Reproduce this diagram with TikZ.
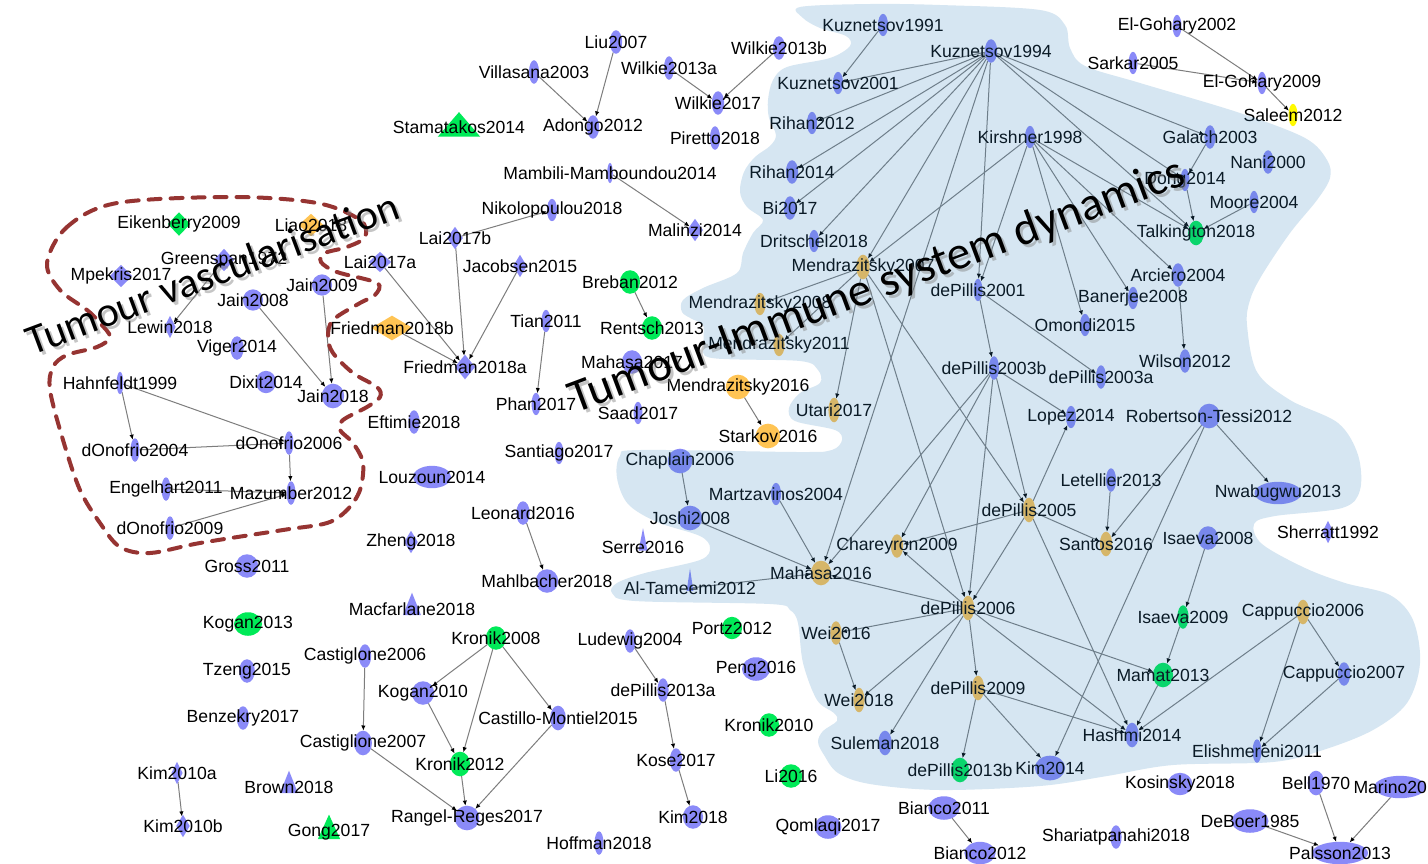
\documentclass[tikz,border=0pt]{standalone}
\usepackage{fontspec}
\setmainfont{Liberation Sans}
\newfontfamily\titlefont{Carlito}
\usetikzlibrary{shapes.geometric,arrows.meta}

\definecolor{nb}{RGB}{138,138,248}
\definecolor{ng}{RGB}{0,234,88}
\definecolor{no}{RGB}{255,196,84}
\definecolor{ny}{RGB}{255,250,0}
\definecolor{edgegray}{RGB}{125,125,125}
\definecolor{blobblue}{RGB}{50,130,190}
\definecolor{vascred}{RGB}{150,52,50}

\pgfdeclarelayer{backdrop}
\pgfdeclarelayer{edges}
\pgfsetlayers{backdrop,edges,main}

\tikzset{
  paper/.style={draw=none, inner sep=0pt, outer sep=0pt},
  oval/.style={paper, ellipse},
  rhomb/.style={paper, diamond},
  tri/.style={paper, isosceles triangle, shape border rotate=90, isosceles triangle stretches},
  lbl/.style={font=\fontsize{8.8}{10}\selectfont, inner sep=0pt},
  cite/.style={draw=edgegray, line width=0.5pt, -{Latex[length=2.6pt,width=2.2pt,color=black]}},
  vasc/.style={draw=vascred, line width=2pt, line cap=round, dash pattern=on 6pt off 5pt},
  bigtitle/.style={font=\titlefont, inner sep=0pt},
}

\begin{document}
\begin{tikzpicture}[x=0.5pt,y=-0.5pt]
\useasboundingbox (0,0) rectangle (1428,863);
\begin{pgfonlayer}{backdrop}
  \fill[white] (0,0) rectangle (1428,863);
\end{pgfonlayer}

% papers: name / x / y / shape / colour / width / height (px)
\foreach \nm/\px/\py/\shp/\col/\nw/\nh in {
  Kuznetsov1991/883/25/oval/nb/9/20, Kuznetsov1994/991/51/oval/nb/11/21,
  Kuznetsov2001/838/83/oval/nb/9/20, Rihan2012/812/123/oval/nb/9/20,
  Rihan2014/792/172/oval/nb/11/21, Bi2017/790/208/oval/nb/11/21,
  Dritschel2018/814/241/oval/nb/9/20, Mendrazitsky2007/863/267/oval/no/12/22,
  Mendrazitsky2008/760/304/oval/no/10/20, Mendrazitsky2011/779/345/oval/no/10/20,
  Mendrazitsky2016/738/387/oval/no/22/22, Starkov2016/768/436/oval/no/22/22,
  Utari2017/834/410/oval/no/10/22, El-Gohary2002/1177/26/oval/nb/8/20,
  Sarkar2005/1133/63/oval/nb/8/20, El-Gohary2009/1262/83/oval/nb/8/20,
  Saleem2012/1293/115/oval/ny/8/20, Kirshner1998/1030/137/oval/nb/9/20,
  Galach2003/1210/137/oval/nb/10/21, Nani2000/1268/162/oval/nb/10/21,
  Dong2014/1185/180/oval/nb/8/20, Moore2004/1254/202/oval/nb/8/20,
  Talkington2018/1196/233/oval/ng/14/22, Arciero2004/1178/275/oval/nb/11/21,
  dePillis2001/978/290/oval/nb/8/20, Banerjee2008/1133/298/oval/nb/9/20,
  Omondi2015/1085/325/oval/nb/9/20, Wilson2012/1185/361/oval/nb/10/21,
  dePillis2003b/994/368/oval/nb/9/21, dePillis2003a/1101/377/oval/nb/9/21,
  Lopez2014/1071/417/oval/nb/9/20, Robertson-Tessi2012/1209/416/oval/nb/20/22,
  Letellier2013/1111/480/oval/nb/9/21, Nwabugwu2013/1278/493/oval/nb/42/20,
  dePillis2005/1029/510/oval/no/11/22, Santos2016/1106/544/oval/no/11/22,
  Isaeva2008/1208/538/oval/nb/18/21, Sherratt1992/1328/532/rhomb/nb/10/20,
  Chaplain2006/680/461/oval/nb/22/22, Martzavinos2004/776/494/oval/nb/9/20,
  Joshi2008/690/518/oval/nb/22/22, Chareyron2009/897/546/oval/no/11/21,
  Mahasa2016/821/573/oval/no/18/22, Al-Tameemi2012/690/588/tri/nb/6/20,
  dePillis2006/968/608/oval/no/11/22, Isaeva2009/1183/617/oval/ng/10/21,
  Cappuccio2006/1303/612/oval/no/11/22, Wei2016/836/633/oval/no/10/21,
  Mamat2013/1163/675/oval/ng/18/22, Cappuccio2007/1344/674/oval/nb/11/21,
  dePillis2009/978/688/oval/no/11/22, Wei2018/859/700/oval/no/10/22,
  Hashmi2014/1132/735/oval/nb/12/22, Suleman2018/885/743/oval/nb/12/22,
  Elishmereni2011/1257/751/oval/nb/8/21, dePillis2013b/960/770/oval/ng/16/22,
  Kim2014/1050/768/oval/nb/27/22, Kosinsky2018/1180/784/oval/nb/22/20,
  Bell1970/1316/783/oval/nb/15/22, Marino2018/1400/787/oval/nb/46/20,
  DeBoer1985/1250/821/oval/nb/33/21, Shariatpanahi2018/1116/837/oval/nb/10/21,
  Palsson2013/1340/853/oval/nb/50/20, Bianco2011/944/808/oval/nb/28/21,
  Bianco2012/980/853/oval/nb/28/20, Qomlaqi2017/828/827/oval/nb/24/21,
  Li2016/791/776/oval/ng/20/21, Kronik2010/769/725/oval/ng/18/21,
  Peng2016/756/669/oval/nb/25/21, Portz2012/732/628/oval/ng/18/20,
  Ludewig2004/630/641/oval/nb/10/21, dePillis2013a/663/690/oval/nb/10/21,
  Kose2017/676/760/oval/nb/11/21, Kim2018/693/817/oval/nb/18/21,
  Hoffman2018/599/843/oval/nb/8/21, Kronik2008/496/638/oval/ng/18/21,
  Castillo-Montiel2015/558/718/oval/nb/14/22, Kronik2012/460/764/oval/ng/18/22,
  Rangel-Reges2017/467/818/oval/nb/22/22, Kogan2010/423/693/oval/nb/20/21,
  Castiglone2006/365/656/oval/nb/11/21, Castiglione2007/363/743/oval/nb/16/22,
  Macfarlane2018/412/609/tri/nb/16/20, Kogan2013/248/624/oval/ng/25/21,
  Tzeng2015/247/671/oval/nb/14/21, Benzekry2017/243/718/oval/nb/11/21,
  Kim2010a/177/773/rhomb/nb/10/20, Kim2010b/183/826/rhomb/nb/12/20,
  Brown2018/289/787/tri/nb/16/20, Gong2017/329/832/tri/ng/20/22,
  Gross2011/247/566/oval/nb/20/21, Zheng2018/411/542/rhomb/nb/12/20,
  Louzoun2014/432/477/oval/nb/34/20, Eftimie2018/414/422/oval/nb/10/21,
  Leonard2016/523/513/oval/nb/12/21, Mahlbacher2018/547/581/oval/nb/20/21,
  Serre2016/643/547/tri/nb/8/20, Santiago2017/559/453/oval/nb/8/20,
  Phan2017/536/404/oval/nb/8/20, Saad2017/638/413/oval/nb/8/20,
  Tian2011/546/321/oval/nb/8/20, Mahasa2017/632/362/oval/nb/18/21,
  Rentsch2013/652/328/oval/ng/18/21, Breban2012/630/282/oval/ng/18/21,
  Jacobsen2015/520/266/rhomb/nb/12/20, Malinzi2014/695/230/rhomb/nb/14/20,
  Nikolopoulou2018/552/210/oval/nb/9/20, Mambili-Mamboundou2014/610/173/oval/nb/5/18,
  Adongo2012/593/127/oval/nb/11/21, Piretto2018/715/138/oval/nb/9/21,
  Wilkie2017/718/103/oval/nb/11/21, Wilkie2013a/669/68/oval/nb/9/21,
  Wilkie2013b/779/48/oval/nb/11/21, Liu2007/616/42/oval/nb/11/21,
  Villasana2003/534/72/oval/nb/9/21, Stamatakos2014/459/127/tri/ng/38/22,
  Lai2017b/455/238/rhomb/nb/14/20, Lai2017a/380/262/rhomb/nb/20/18,
  Friedman2018a/465/367/rhomb/nb/18/22, Friedman2018b/392/328/rhomb/no/37/22,
  Eikenberry2009/179/224/rhomb/ng/20/21, Liao2018/311/225/rhomb/no/22/20,
  Greenspan1972/224/260/rhomb/nb/18/20, Mpekris2017/121/276/rhomb/nb/20/20,
  Jain2009/322/285/oval/nb/18/19, Jain2008/253/300/oval/nb/18/19,
  Lewin2018/170/327/rhomb/nb/10/20, Viger2014/237/348/oval/nb/12/21,
  Hahnfeldt1999/120/383/oval/nb/6/20, Dixit2014/266/382/oval/nb/18/20,
  Jain2018/333/396/oval/nb/20/22, dOnofrio2004/135/450/oval/nb/8/21,
  dOnofrio2006/289/443/oval/nb/8/21, Engelhart2011/166/489/oval/nb/8/21,
  Mazumber2012/291/493/oval/nb/8/21, dOnofrio2009/170/528/oval/nb/8/21}
  \node[\shp, fill=\col, minimum width=\nw*0.56pt, minimum height=\nh*0.56pt,
        label={[lbl]center:\nm}] (\nm) at (\px,\py) {};

% citations, older -> newer
\begin{pgfonlayer}{edges}
\foreach \src/\dst in {
  Liu2007/Adongo2012, Villasana2003/Adongo2012, Wilkie2013a/Wilkie2017,
  Wilkie2013b/Wilkie2017, Mambili-Mamboundou2014/Malinzi2014,
  Lai2017b/Nikolopoulou2018, Lai2017b/Friedman2018a, Lai2017a/Friedman2018a,
  Jacobsen2015/Friedman2018a, Friedman2018b/Friedman2018a,
  Greenspan1972/Lewin2018, Jain2008/Jain2018, Jain2009/Jain2018,
  Hahnfeldt1999/dOnofrio2004, Hahnfeldt1999/dOnofrio2006,
  dOnofrio2004/dOnofrio2006, dOnofrio2006/Mazumber2012,
  Engelhart2011/Mazumber2012, dOnofrio2009/Mazumber2012,
  Breban2012/Rentsch2013, Tian2011/Phan2017, Leonard2016/Mahlbacher2018,
  Mendrazitsky2016/Starkov2016, Chaplain2006/Joshi2008,
  Joshi2008/Mahasa2016, Martzavinos2004/Mahasa2016, Al-Tameemi2012/Mahasa2016,
  Kuznetsov1991/Kuznetsov2001, Kuznetsov1994/Kuznetsov2001,
  Kuznetsov1994/Rihan2012, Kuznetsov1994/Rihan2014, Kuznetsov1994/Bi2017,
  Kuznetsov1994/Dritschel2018, Kuznetsov1994/Mendrazitsky2007,
  Kuznetsov1994/Mahasa2016, Kuznetsov1994/dePillis2001,
  Kuznetsov1994/Galach2003, Kuznetsov1994/Dong2014,
  Kuznetsov1994/Talkington2018, Kirshner1998/Mendrazitsky2007,
  Kirshner1998/dePillis2001, Kirshner1998/Omondi2015,
  Kirshner1998/Banerjee2008, Kirshner1998/Arciero2004,
  Kirshner1998/Talkington2018, Galach2003/Dong2014, Dong2014/Talkington2018,
  Moore2004/Talkington2018, El-Gohary2002/El-Gohary2009,
  Sarkar2005/El-Gohary2009, El-Gohary2009/Saleem2012, Arciero2004/Wilson2012,
  Mendrazitsky2007/Mendrazitsky2008, Mendrazitsky2007/Mendrazitsky2011,
  Mendrazitsky2007/Utari2017, Mendrazitsky2007/dePillis2005,
  Mendrazitsky2007/dePillis2006, dePillis2001/dePillis2003b,
  dePillis2001/dePillis2003a, dePillis2003b/Lopez2014,
  dePillis2003b/dePillis2005, dePillis2003b/dePillis2006,
  dePillis2003b/Chareyron2009, dePillis2003b/Mahasa2016,
  dePillis2005/Lopez2014, dePillis2005/Santos2016, dePillis2005/Chareyron2009,
  dePillis2005/dePillis2006, dePillis2005/Hashmi2014,
  Letellier2013/Santos2016, Robertson-Tessi2012/Santos2016,
  Robertson-Tessi2012/Nwabugwu2013, Robertson-Tessi2012/Kim2014,
  Isaeva2008/Isaeva2009, Isaeva2009/Mamat2013, dePillis2006/Mahasa2016,
  dePillis2006/Chareyron2009, dePillis2006/Wei2016, dePillis2006/Wei2018,
  dePillis2006/Suleman2018, dePillis2006/dePillis2009, dePillis2006/Mamat2013,
  dePillis2006/Hashmi2014, Wei2016/Wei2018, dePillis2009/dePillis2013b,
  dePillis2009/Kim2014, dePillis2009/Hashmi2014, Mamat2013/Hashmi2014,
  Cappuccio2006/Hashmi2014, Cappuccio2006/Cappuccio2007,
  Cappuccio2006/Elishmereni2011, Cappuccio2007/Elishmereni2011,
  Kronik2008/Kogan2010, Kronik2008/Kronik2012, Kronik2008/Castillo-Montiel2015,
  Kogan2010/Kronik2012, Castiglone2006/Castiglione2007,
  Castiglione2007/Rangel-Reges2017, Kronik2012/Rangel-Reges2017,
  Castillo-Montiel2015/Rangel-Reges2017, Kim2010a/Kim2010b,
  Ludewig2004/dePillis2013a, dePillis2013a/Kose2017, Kose2017/Kim2018,
  Bianco2011/Bianco2012, DeBoer1985/Palsson2013, Bell1970/Palsson2013,
  Marino2018/Palsson2013}
  \draw[cite] (\src) -- (\dst);
\end{pgfonlayer}

% tumour-immune region, laid over the papers
\fill[blobblue, opacity=0.2] plot[smooth cycle, tension=0.55] coordinates {
  (800,7) (870,4) (940,5) (1040,10) (1065,25) (1070,48) (1085,66) (1140,83)
  (1240,113) (1305,138) (1327,160) (1330,178) (1317,200) (1290,233) (1262,275)
  (1250,300) (1247,325) (1257,372) (1290,400) (1338,423) (1358,455) (1360,490)
  (1342,508) (1275,516) (1254,524) (1262,544) (1305,568) (1345,583) (1390,595)
  (1413,620) (1420,663) (1407,703) (1373,730) (1323,750) (1273,762) (1173,765)
  (1107,776) (1040,786) (940,790) (870,784) (838,773) (824,755) (818,742)
  (823,731) (837,721) (834,713) (817,700) (803,663) (798,623) (790,610)
  (770,604) (635,601) (612,593) (617,583) (645,573) (700,560) (710,548)
  (700,536) (657,522) (628,504) (617,478) (620,456) (640,450) (800,452)
  (832,450) (842,440) (835,430) (795,421) (789,408) (800,393) (820,383)
  (818,370) (800,361) (712,358) (704,345) (703,325) (692,319) (682,312)
  (683,300) (703,288) (737,273) (743,253) (753,233) (763,220) (747,207)
  (740,192) (744,172) (755,157) (770,146) (776,135) (769,118) (768,100)
  (773,80) (787,67) (830,58) (850,46) (846,36) (820,28) (803,18)};

% tumour vascularisation boundary
\draw[vasc] plot[smooth cycle, tension=0.55] coordinates {
  (47,263) (67,227) (117,203) (233,197) (317,203) (360,220) (365,237)
  (347,247) (325,253) (321,262) (337,272) (377,283) (375,295) (360,303)
  (333,320) (328,337) (333,353) (353,373) (377,387) (380,397) (367,407)
  (343,420) (340,430) (353,443) (363,463) (360,490) (347,510) (327,523)
  (283,530) (200,543) (150,553) (120,547) (100,523) (80,490) (63,440)
  (50,390) (53,367) (67,355) (97,347) (110,337) (100,323) (87,310) (60,290)};

% region titles with a soft shadow
\node[bigtitle, text=black!50, opacity=0.45, rotate=20.5, font=\titlefont\fontsize{21}{25}\selectfont]
  at (215,276) {Tumour vascularisation};
\node[bigtitle, rotate=20.5, font=\titlefont\fontsize{21}{25}\selectfont]
  (vasctitle) at (212,273) {Tumour vascularisation};
\node[bigtitle, text=black!50, opacity=0.45, rotate=20.5, font=\titlefont\fontsize{23.5}{28}\selectfont]
  at (880,290) {Tumour-Immune system dynamics};
\node[bigtitle, rotate=20.5, font=\titlefont\fontsize{23.5}{28}\selectfont]
  (immunetitle) at (877,287) {Tumour-Immune system dynamics};
\end{tikzpicture}
\end{document}
